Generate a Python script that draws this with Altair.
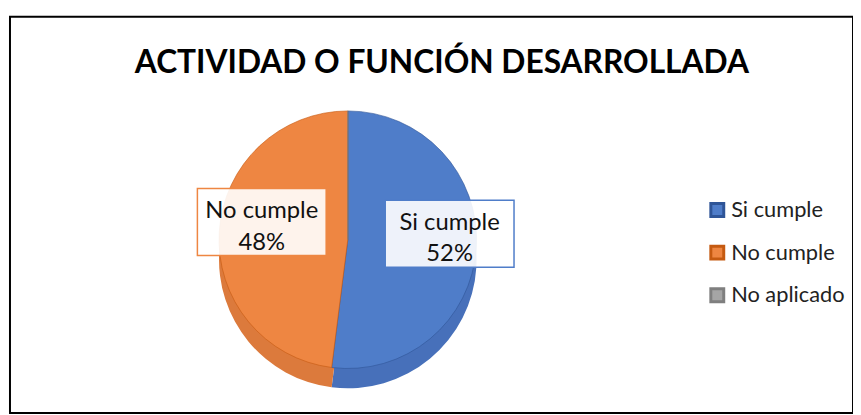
import altair as alt
import pandas as pd

title_text = "ACTIVIDAD O FUNCIÓN DESARROLLADA"
categories = ["Si cumple", "No cumple", "No aplicado"]
values = [52, 48, 0]
top_colors = ["#4F7DC9", "#EE8642", "#A5A5A5"]
side_colors = ["#4770BA", "#DC7A3C", "#8C8C8C"]
edge_colors = ["#2F5597", "#C55A11", "#7F7F7F"]

df = pd.DataFrame({"cat": categories, "value": values, "order": list(range(len(categories)))})

CX, CY, R = 341, 225, 130
DEPTH = 20
LABEL_R = 95
LABEL_DX = 8
LABEL_DY = -12
FONT = "Lato"

base = alt.Chart(df)

theta = alt.Theta("value:Q", stack=True)
order = alt.Order("order:O")

legend = alt.Legend(
    title=None,
    orient="none",
    legendX=703,
    legendY=184,
    symbolType="square",
    symbolSize=170,
    symbolStrokeWidth=3,
    labelFont=FONT,
    labelFontSize=22,
    labelColor="#222222",
    labelOffset=3,
    rowPadding=17,
    padding=0,
)

side = base.mark_arc(radius=R, strokeWidth=0).encode(
    theta=theta,
    order=order,
    color=alt.Color("cat:N", scale=alt.Scale(domain=categories, range=side_colors), legend=None),
    x=alt.value(CX),
    y=alt.value(CY + DEPTH),
)

top = base.mark_arc(radius=R, strokeWidth=0.6).encode(
    theta=theta,
    order=order,
    color=alt.Color("cat:N", scale=alt.Scale(domain=categories, range=top_colors), legend=legend),
    stroke=alt.Stroke("cat:N", scale=alt.Scale(domain=categories, range=edge_colors), legend=legend),
    x=alt.value(CX),
    y=alt.value(CY),
)

lab = base.transform_joinaggregate(total="sum(value)").transform_window(
    cum="sum(value)", sort=[alt.SortField("order")], frame=[None, 0]
).transform_filter("datum.value > 0").transform_calculate(
    ang="(datum.cum - datum.value / 2) / datum.total * 2 * PI",
    px=f"{CX} + {LABEL_DX} + {LABEL_R} * sin(datum.ang)",
    py=f"{CY} + {LABEL_DY} - {LABEL_R} * cos(datum.ang)",
    txt="[datum.cat, datum.value + '%']",
)

boxes = lab.mark_point(
    shape="M-1,-0.52H1V0.52H-1Z",
    size=130 * 130,
    filled=True,
    fill="#ffffff",
    fillOpacity=0.9,
    strokeWidth=1.5,
    opacity=1,
).encode(
    x=alt.X("px:Q", scale=None),
    y=alt.Y("py:Q", scale=None),
    stroke=alt.Stroke("cat:N", scale=alt.Scale(domain=categories, range=top_colors), legend=None),
)

texts = lab.mark_text(
    font=FONT, fontSize=24, color="#111111", lineHeight=32, baseline="middle", align="center", dy=-11
).encode(
    x=alt.X("px:Q", scale=None),
    y=alt.Y("py:Q", scale=None),
    text="txt:N",
)

title = alt.Chart(pd.DataFrame({"t": [title_text]})).mark_text(
    font=FONT, fontSize=32, fontWeight="bold", color="#000000", baseline="alphabetic", align="center"
).encode(x=alt.value(436), y=alt.value(57), text="t:N")

chart = (
    alt.layer(side, top, boxes, texts, title)
    .resolve_scale(color="independent", stroke="independent")
    .properties(
        width=851,
        height=400,
        autosize=alt.AutoSizeParams(type="none"),
        padding={"left": 2, "top": 7, "right": 0, "bottom": 0},
        background="#ffffff",
    )
    .configure_view(stroke="#000000", strokeWidth=2)
)

chart.save("out.html", embed_options={"renderer": "svg", "actions": False})
